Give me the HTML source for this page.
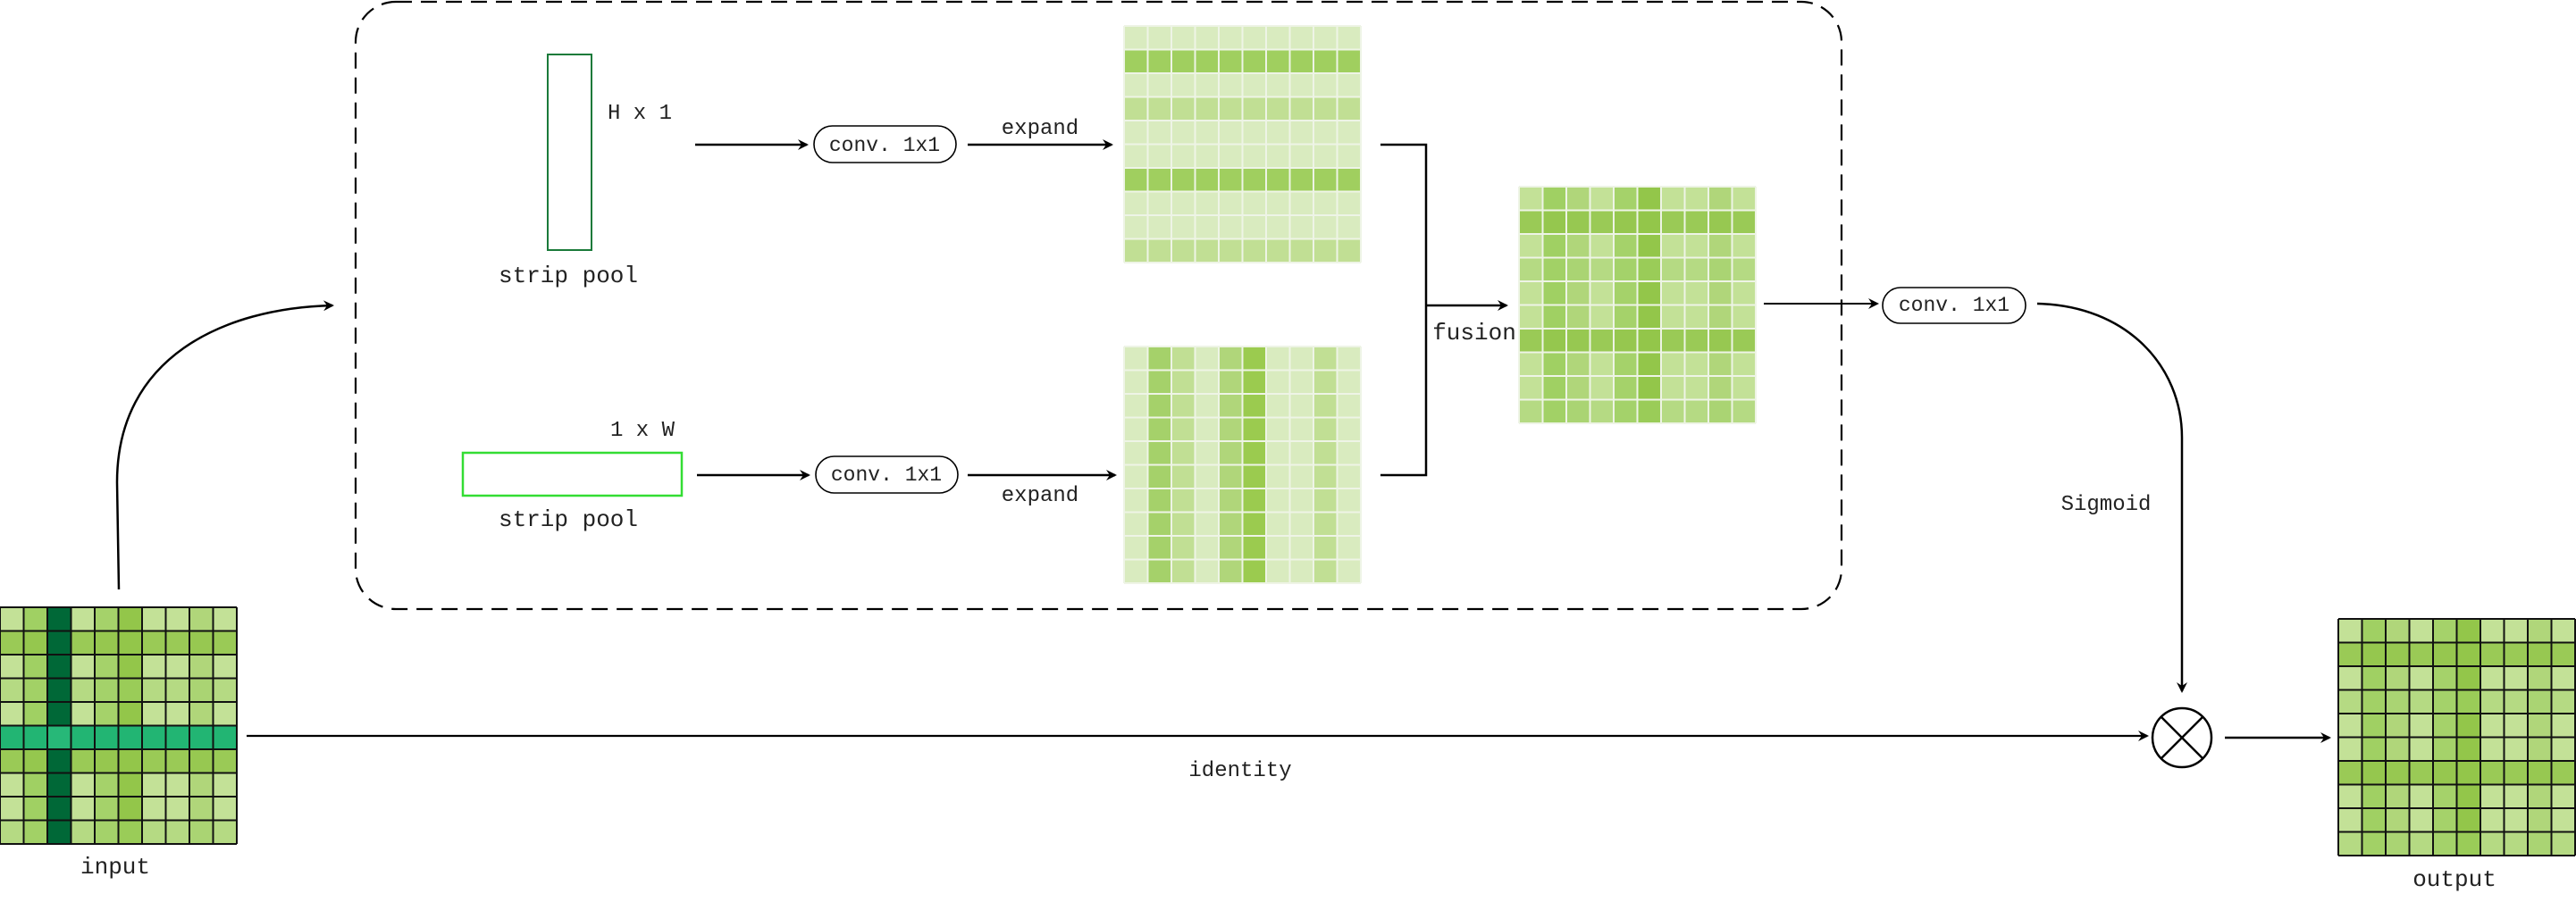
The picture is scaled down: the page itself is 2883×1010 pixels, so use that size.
<!DOCTYPE html>
<html><head><meta charset="utf-8"><style>html,body{margin:0;padding:0;background:#fff}svg{display:block}text{font-family:"Liberation Mono",monospace;fill:#222}</style></head>
<body>
<svg width="2883" height="1010" viewBox="0 0 2883 1010" xmlns="http://www.w3.org/2000/svg">
<defs>
<marker id="ar" markerWidth="12" markerHeight="12" refX="10" refY="6" orient="auto" markerUnits="userSpaceOnUse"><path d="M0,0 L12,6 L0,12 L4,6 Z" fill="#000"/></marker>
<path id="gl" d="M0 0V265M26.5 0V265M53 0V265M79.5 0V265M106 0V265M132.5 0V265M159 0V265M185.5 0V265M212 0V265M238.5 0V265M265 0V265M0 0H265M0 26.5H265M0 53H265M0 79.5H265M0 106H265M0 132.5H265M0 159H265M0 185.5H265M0 212H265M0 238.5H265M0 265H265"/>
<g id="fcols">
<rect x="0" y="0" width="26.5" height="265" fill="#c3e197"/>
<rect x="26.5" y="0" width="26.5" height="265" fill="#a0d063"/>
<rect x="53" y="0" width="26.5" height="265" fill="#b0d67a"/>
<rect x="79.5" y="0" width="26.5" height="265" fill="#c3e197"/>
<rect x="106" y="0" width="26.5" height="265" fill="#a5d26a"/>
<rect x="132.5" y="0" width="26.5" height="265" fill="#93c64a"/>
<rect x="159" y="0" width="26.5" height="265" fill="#c3e197"/>
<rect x="185.5" y="0" width="26.5" height="265" fill="#c3e197"/>
<rect x="212" y="0" width="26.5" height="265" fill="#b0d67a"/>
<rect x="238.5" y="0" width="26.5" height="265" fill="#c3e197"/>
<rect x="0" y="26.5" width="265" height="26.5" fill="#93c64a" opacity="0.85"/>
<rect x="0" y="159" width="265" height="26.5" fill="#93c64a" opacity="0.85"/>
<rect x="0" y="79.5" width="265" height="26.5" fill="#a5d26a" opacity="0.45"/>
<rect x="0" y="238.5" width="265" height="26.5" fill="#a5d26a" opacity="0.45"/>
</g>
</defs>

<!-- dashed container -->
<rect x="398" y="2" width="1663" height="680" rx="45" ry="45" fill="none" stroke="#000" stroke-width="2.2" stroke-dasharray="18,10"/>

<!-- input grid -->
<g transform="translate(0,680)">
<use href="#fcols"/>
<rect x="53" y="0" width="26.5" height="265" fill="#006837"/>
<rect x="0" y="132.5" width="265" height="26.5" fill="#22b573"/>
<rect x="53" y="132.5" width="26.5" height="26.5" fill="#27b878"/>
<use href="#gl" fill="none" stroke="#111" stroke-width="2"/>
</g>
<text x="129" y="978" font-size="26" text-anchor="middle">input</text>

<!-- output grid -->
<g transform="translate(2617,693)">
<use href="#fcols"/>
<use href="#gl" fill="none" stroke="#111" stroke-width="2"/>
</g>
<text x="2747" y="992" font-size="26" text-anchor="middle">output</text>

<!-- top grid -->
<g transform="translate(1258,29)">
<rect x="0" y="0" width="265" height="265" fill="#d9ebbf"/>
<rect x="0" y="26.5" width="265" height="26.5" fill="#a0cf5f"/>
<rect x="0" y="159" width="265" height="26.5" fill="#a0cf5f"/>
<rect x="0" y="79.5" width="265" height="26.5" fill="#c1df94"/>
<rect x="0" y="238.5" width="265" height="26.5" fill="#c1df94"/>
<use href="#gl" fill="none" stroke="#eef4e6" stroke-width="2"/>
</g>

<!-- bottom grid -->
<g transform="translate(1258,388)">
<rect x="0" y="0" width="265" height="265" fill="#d9ebbf"/>
<rect x="26.5" y="0" width="26.5" height="265" fill="#a5d16a"/>
<rect x="53" y="0" width="26.5" height="265" fill="#c1df94"/>
<rect x="106" y="0" width="26.5" height="265" fill="#b0d67a"/>
<rect x="132.5" y="0" width="26.5" height="265" fill="#9bcb4f"/>
<rect x="212" y="0" width="26.5" height="265" fill="#c1df94"/>
<use href="#gl" fill="none" stroke="#eef4e6" stroke-width="2"/>
</g>

<!-- fusion grid -->
<g transform="translate(1700,209)">
<use href="#fcols"/>
<use href="#gl" fill="none" stroke="#eef4e6" stroke-width="2"/>
</g>

<!-- strip pools -->
<rect x="613" y="61" width="49" height="219" fill="none" stroke="#1a7a3a" stroke-width="2"/>
<text x="680" y="133" font-size="24">H x 1</text>
<text x="636" y="316" font-size="26" text-anchor="middle">strip pool</text>

<rect x="518" y="507" width="245" height="48" fill="none" stroke="#33dd33" stroke-width="2.5"/>
<text x="719" y="488" font-size="24" text-anchor="middle">1 x W</text>
<text x="636" y="589" font-size="26" text-anchor="middle">strip pool</text>

<!-- top path -->
<line x1="778" y1="162" x2="903" y2="162" stroke="#000" stroke-width="2.5" marker-end="url(#ar)"/>
<rect x="911" y="141" width="159" height="41" rx="20.5" fill="#fff" stroke="#000" stroke-width="1.6"/>
<text x="990" y="169" font-size="23" text-anchor="middle">conv. 1x1</text>
<line x1="1083" y1="162" x2="1244" y2="162" stroke="#000" stroke-width="2.5" marker-end="url(#ar)"/>
<text x="1164" y="150" font-size="24" text-anchor="middle">expand</text>

<!-- bottom path -->
<line x1="780" y1="532" x2="905" y2="532" stroke="#000" stroke-width="2.5" marker-end="url(#ar)"/>
<rect x="913" y="511" width="159" height="41" rx="20.5" fill="#fff" stroke="#000" stroke-width="1.6"/>
<text x="992" y="538" font-size="23" text-anchor="middle">conv. 1x1</text>
<line x1="1083" y1="532" x2="1248" y2="532" stroke="#000" stroke-width="2.5" marker-end="url(#ar)"/>
<text x="1164" y="561" font-size="24" text-anchor="middle">expand</text>

<!-- bracket -->
<path d="M1545 162 H1596 V532 H1545" fill="none" stroke="#000" stroke-width="2.5"/>
<line x1="1596" y1="342" x2="1686" y2="342" stroke="#000" stroke-width="2.5" marker-end="url(#ar)"/>
<text x="1650" y="380" font-size="26" text-anchor="middle">fusion</text>

<!-- right conv -->
<line x1="1974" y1="340" x2="2101" y2="340" stroke="#000" stroke-width="2" marker-end="url(#ar)"/>
<rect x="2107" y="322" width="160" height="40" rx="20" fill="#fff" stroke="#000" stroke-width="1.6"/>
<text x="2187" y="348" font-size="23" text-anchor="middle">conv. 1x1</text>

<!-- sigmoid curve -->
<path d="M2280 340 C2380 342 2442 410 2442 490 L2442 774" fill="none" stroke="#000" stroke-width="2.5" marker-end="url(#ar)"/>
<text x="2357" y="571" font-size="24" text-anchor="middle">Sigmoid</text>

<!-- multiply -->
<circle cx="2442" cy="826" r="33" fill="#fff" stroke="#000" stroke-width="2.5"/>
<line x1="2419" y1="803" x2="2465" y2="849" stroke="#000" stroke-width="2.5"/>
<line x1="2465" y1="803" x2="2419" y2="849" stroke="#000" stroke-width="2.5"/>

<!-- identity -->
<line x1="276" y1="824" x2="2403" y2="824" stroke="#000" stroke-width="2.2" marker-end="url(#ar)"/>
<text x="1388" y="869" font-size="24" text-anchor="middle">identity</text>
<line x1="2490" y1="826" x2="2607" y2="826" stroke="#000" stroke-width="2.5" marker-end="url(#ar)"/>

<!-- left curve -->
<path d="M133 660 L131 540 C131 400 250 345 372 342" fill="none" stroke="#000" stroke-width="2.5" marker-end="url(#ar)"/>
</svg>
</body></html>
